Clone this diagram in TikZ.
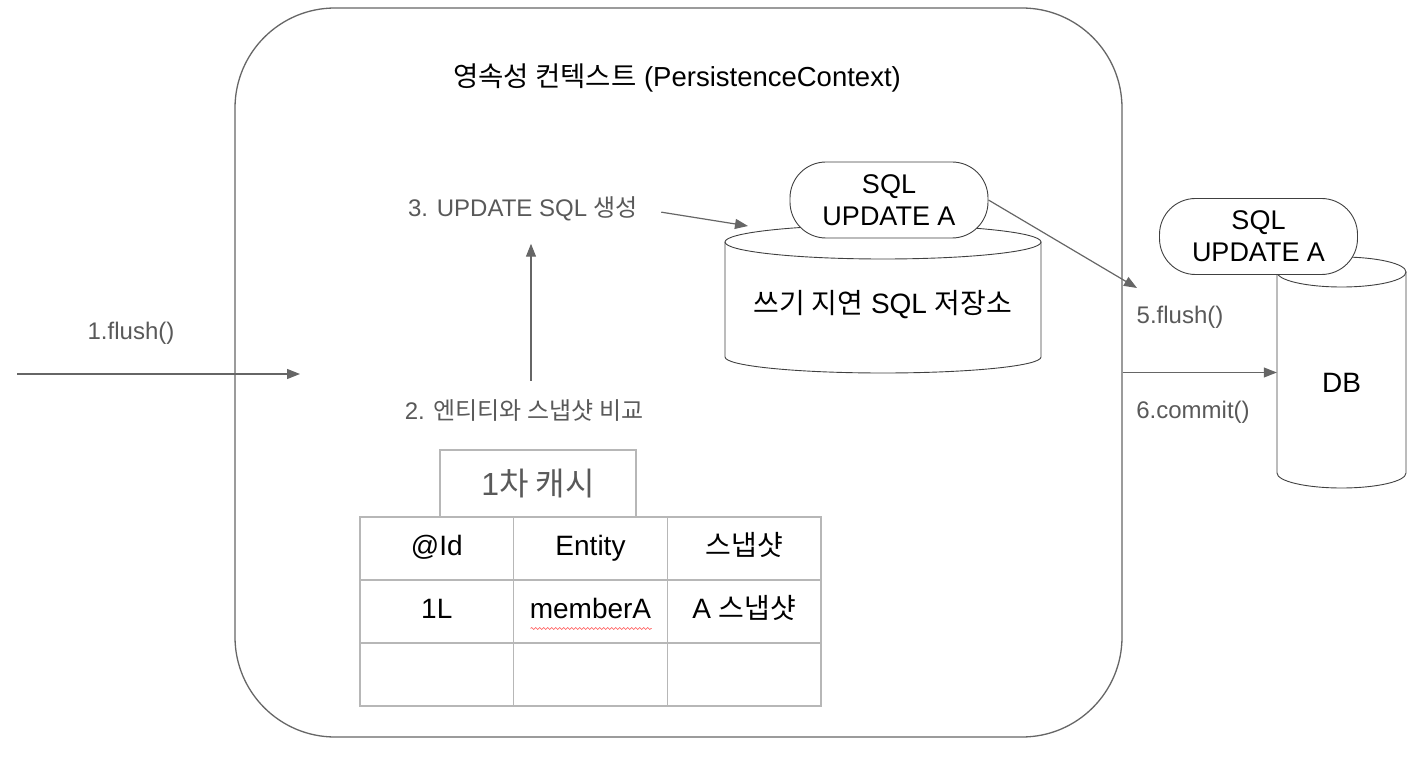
\documentclass[tikz,border=0pt]{standalone}
\usepackage{fontspec}
\setmainfont{Liberation Sans}
\newfontfamily\kr{Noto Sans CJK KR}
\usepackage{tikz}
\usetikzlibrary{arrows.meta,positioning,calc,matrix,decorations.pathmorphing}
\definecolor{linegray}{HTML}{666666}
\definecolor{textgray}{HTML}{595959}
\definecolor{gridgray}{HTML}{B7B7B7}

\begin{document}
\begin{tikzpicture}[x=1pt,y=-1pt,
    flow/.style={draw=linegray, line width=1.2pt, -{Triangle[length=13pt,width=10pt]}},
    steplabel/.style={text=textgray, font=\fontsize{24}{28}\selectfont},
    pill/.style={draw=black!75, fill=white, rounded corners=36pt, align=center,
        font=\fontsize{27}{32}\selectfont, minimum width=198pt, minimum height=76pt, line width=0.9pt},
    cyl/.style={draw=black!75, line width=0.9pt},
    cell/.style={draw=gridgray, line width=1.3pt, anchor=center, text height=20pt, text depth=7pt,
        minimum width=153.7pt, minimum height=63pt, font=\fontsize{28}{32}\selectfont},
    spellmark/.style={draw=red!70, line width=0.6pt, decorate,
        decoration={snake, amplitude=1pt, segment length=4pt}}]
    \useasboundingbox (0,0) rectangle (1422,759);

    % Persistence context
    \node (ctx) [draw=linegray, line width=1.3pt, rounded corners=100pt,
        minimum width=887pt, minimum height=729pt] at (678.5,372.5) {};
    \node (ctxtitle) [font=\fontsize{27.5}{32}\selectfont] at (677,78)
        {{\kr 영속성 컨텍스트} (PersistenceContext)};

    % 1. flush
    \coordinate (callin) at (17,374);
    \coordinate (ctxin) at (300,374);
    \draw[flow] (callin) -- (ctxin);
    \node[steplabel] (flushone) at (131,333) {1.flush()};

    % 2. / 3. labels
    \node[steplabel] (cmp) at (524,411) {2. {\kr 엔티티와 스냅샷 비교}};
    \node[steplabel] (gen) at (523,209) {3. UPDATE SQL {\kr 생성}};
    \draw[flow, shorten <=16pt, shorten >=19pt] ([xshift=7pt]cmp.north) -- ([xshift=8pt]gen.south);

    % Write-behind SQL store
    \draw[cyl] (725,242) -- (725,357) arc[start angle=180, end angle=360, x radius=158pt, y radius=16pt] -- (1041,242);
    \draw[cyl] (883,242) ellipse[x radius=158pt, y radius=17pt];
    \node (store) [font=\fontsize{28}{32}\selectfont] at (883,305) {{\kr 쓰기 지연} SQL {\kr 저장소}};
    \node[pill] (sqlbuf) at (889,200) {SQL\\UPDATE A};
    \coordinate (bufin) at (748,226);
    \draw[flow, shorten <=20pt] (gen.east) -- (bufin);

    % DB
    \draw[cyl] (1277,272) -- (1277,473) arc[start angle=180, end angle=360, x radius=64.5pt, y radius=15pt] -- (1406,272);
    \draw[cyl] (1341.5,272) ellipse[x radius=64.5pt, y radius=15pt];
    \node (db) [minimum width=129pt, font=\fontsize{28}{32}\selectfont] at (1341.5,383) {DB};
    \node[pill] (sqldb) at (1258.5,236.5) {SQL\\UPDATE A};

    % 5. flush / 6. commit
    \coordinate (flushto) at (1137,288);
    \draw[flow] (sqlbuf.east) -- (flushto);
    \node[steplabel] (flushfive) at (1180,317) {5.flush()};
    \draw[flow] (ctx.east) -- (db.west |- ctx.east);
    \node[steplabel] (commit) at (1193,412) {6.commit()};

    % First-level cache
    \matrix (cache) [matrix of nodes, nodes in empty cells, nodes={cell},
        column sep=-1.3pt, row sep=-1.3pt] at (590.5,611.5) {
        @Id & Entity & {\kr 스냅샷} \\
        1L  & memberA & A {\kr 스냅샷} \\
            &         &  \\
    };
    \node (cachetitle) [draw=gridgray, line width=1.3pt, text=textgray, minimum width=196pt,
        minimum height=67pt, font=\fontsize{32}{36}\selectfont] at (538,483.5) {1{\kr 차 캐시}};
    \draw[spellmark] ([xshift=-60pt,yshift=-17pt]cache-2-2.center) -- ([xshift=61pt,yshift=-17pt]cache-2-2.center);
\end{tikzpicture}
\end{document}
